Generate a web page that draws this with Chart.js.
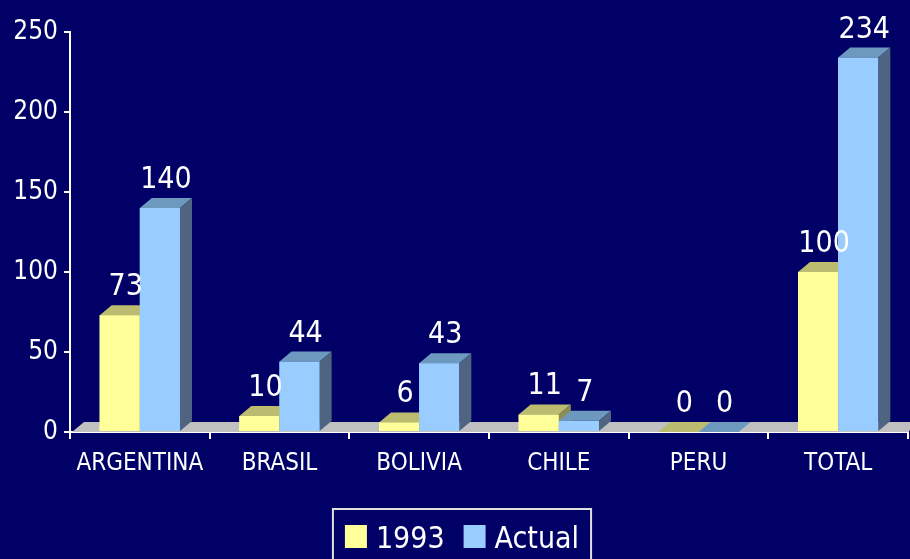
<!DOCTYPE html>
<html>
<head>
<meta charset="utf-8">
<script src="https://cdn.jsdelivr.net/npm/chart.js@4.4.0/dist/chart.umd.min.js"></script>
<style>
  html, body { margin: 0; padding: 0; background: #000066; }
  canvas { display: block; }
</style>
</head>
<body>
<canvas id="grafico" width="910" height="559"></canvas>
<script>
const paises = ['ARGENTINA', 'BRASIL', 'BOLIVIA', 'CHILE', 'PERU', 'TOTAL'];
const valores1993 = [73, 10, 6, 11, 0, 100];
const valoresActual = [140, 44, 43, 7, 0, 234];
const ticksY = [0, 50, 100, 150, 200, 250];

const FUENTE = '"Liberation Sans Narrow", "Arial Narrow", "DejaVu Sans Condensed", sans-serif';
const PROF_X = 12, PROF_Y = 10; // profundidad 3D

// colores: frente, techo, lado
const colores = [
    { frente: '#ffff99', techo: '#bcbc70', lado: '#8c8c55' },
    { frente: '#99ccff', techo: '#6e99bf', lado: '#4f6480' }
];

const efecto3d = {
    id: 'efecto3d',
    beforeDatasetsDraw(chart) {
        // piso gris
        const { ctx, chartArea } = chart;
        const y0 = chart.scales.y.getPixelForValue(0);
        ctx.save();
        ctx.fillStyle = '#c0c0c0';
        ctx.beginPath();
        ctx.moveTo(chartArea.left + 2, y0);
        ctx.lineTo(chartArea.right, y0);
        ctx.lineTo(chartArea.right + PROF_X, y0 - PROF_Y);
        ctx.lineTo(chartArea.left + 2 + PROF_X, y0 - PROF_Y);
        ctx.closePath();
        ctx.fill();
        ctx.restore();
    },
    afterDatasetsDraw(chart) {
        const ctx = chart.ctx;
        // cuerpos 3D: serie 1993 primero, Actual encima
        chart.data.datasets.forEach(function(ds, i) {
            const c = colores[i];
            chart.getDatasetMeta(i).data.forEach(function(bar) {
                const izq = bar.x - bar.width / 2, der = bar.x + bar.width / 2;
                const arriba = bar.y, base = bar.base;
                ctx.save();
                ctx.fillStyle = c.frente;
                ctx.fillRect(izq, arriba, der - izq, base - arriba);
                ctx.fillStyle = c.techo;
                ctx.beginPath();
                ctx.moveTo(izq, arriba);
                ctx.lineTo(der, arriba);
                ctx.lineTo(der + PROF_X, arriba - PROF_Y);
                ctx.lineTo(izq + PROF_X, arriba - PROF_Y);
                ctx.closePath();
                ctx.fill();
                if (base - arriba > 0.5) {
                    ctx.fillStyle = c.lado;
                    ctx.beginPath();
                    ctx.moveTo(der, arriba);
                    ctx.lineTo(der + PROF_X, arriba - PROF_Y);
                    ctx.lineTo(der + PROF_X, base - PROF_Y);
                    ctx.lineTo(der, base);
                    ctx.closePath();
                    ctx.fill();
                }
                ctx.restore();
            });
        });
        // etiquetas de valores
        ctx.save();
        ctx.fillStyle = '#ffffff';
        ctx.font = '30px ' + FUENTE;
        ctx.textAlign = 'center';
        ctx.textBaseline = 'alphabetic';
        chart.data.datasets.forEach(function(ds, i) {
            chart.getDatasetMeta(i).data.forEach(function(bar, j) {
                ctx.fillText(String(ds.data[j]), bar.x + PROF_X / 2, bar.y - 20);
            });
        });
        ctx.restore();
    },
    afterDraw(chart) {
        // leyenda con recuadro
        const ctx = chart.ctx;
        ctx.save();
        ctx.font = '30px ' + FUENTE;
        const items = chart.data.datasets.map(function(ds, i) {
            return { texto: ds.label, color: colores[i].frente, ancho: ctx.measureText(ds.label).width };
        });
        const cuadro = 22, sep = 9, entre = 19, margen = 12;
        let total = margen * 2;
        items.forEach(function(it, i) { total += cuadro + sep + it.ancho + (i > 0 ? entre : 0); });
        let x = 462 - total / 2;
        ctx.strokeStyle = '#e0e0e0';
        ctx.lineWidth = 2;
        ctx.strokeRect(x, 509, total, 60);
        x += margen;
        ctx.textBaseline = 'alphabetic';
        items.forEach(function(it) {
            ctx.fillStyle = it.color;
            ctx.fillRect(x, 525, cuadro, 23);
            x += cuadro + sep;
            ctx.fillStyle = '#ffffff';
            ctx.fillText(it.texto, x, 548);
            x += it.ancho + entre;
        });
        ctx.restore();
    }
};

new Chart(document.getElementById('grafico').getContext('2d'), {
    type: 'bar',
    data: {
        labels: paises,
        datasets: [
            { label: '1993', data: valores1993, backgroundColor: colores[0].frente },
            { label: 'Actual', data: valoresActual, backgroundColor: colores[1].frente }
        ]
    },
    options: {
        responsive: false,
        animation: false,
        layout: { padding: { top: 32, right: 2, left: 0, bottom: 0 } },
        datasets: { bar: { categoryPercentage: 0.575, barPercentage: 1 } },
        plugins: { legend: { display: false }, tooltip: { enabled: false } },
        scales: {
            x: {
                afterFit(s) { s.height = 127; },
                grid: { display: true, drawOnChartArea: false, drawTicks: true, tickLength: 7, color: '#ffffff', lineWidth: 2 },
                border: { display: true, color: '#ffffff', width: 2 },
                ticks: { color: '#ffffff', font: { family: FUENTE, size: 24 }, padding: 10, maxRotation: 0, autoSkip: false }
            },
            y: {
                min: 0,
                max: 250,
                afterFit(s) { s.width = 70; },
                afterBuildTicks(s) { s.ticks = ticksY.map(function(v) { return { value: v }; }); },
                grid: { display: true, drawOnChartArea: false, drawTicks: true, tickLength: 6, color: '#ffffff', lineWidth: 2 },
                border: { display: true, color: '#ffffff', width: 2 },
                ticks: { color: '#ffffff', font: { family: FUENTE, size: 26 }, padding: 6 }
            }
        }
    },
    plugins: [efecto3d]
});
</script>
</body>
</html>
